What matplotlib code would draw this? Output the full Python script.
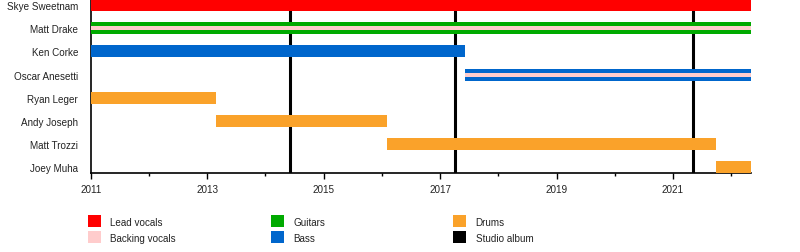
import matplotlib
matplotlib.use("Agg")
import matplotlib.pyplot as plt
from matplotlib.patches import Rectangle

plt.rcParams['font.family'] = ['Liberation Sans', 'DejaVu Sans']

# ---- data ----
members = ["Skye Sweetnam", "Matt Drake", "Ken Corke", "Oscar Anesetti",
           "Ryan Leger", "Andy Joseph", "Matt Trozzi", "Joey Muha"]
roles = ["Lead vocals", "Guitars", "Bass", "Bass",
         "Drums", "Drums", "Drums", "Drums"]
starts = [2011.0, 2011.0, 2011.0, 2017.43, 2011.0, 2013.15, 2016.09, 2021.74]
ends = [2022.34, 2022.34, 2017.43, 2022.34, 2013.15, 2016.09, 2021.74, 2022.34]
backing = [False, True, False, True, False, False, False, False]
albums = [2014.43, 2017.25, 2021.35]
year_start = 2011.0
year_end = 2022.34
major_years = [2011, 2013, 2015, 2017, 2019, 2021]
minor_years = [2012, 2014, 2016, 2018, 2020, 2022]

colors = {
    "Lead vocals": "#ff0000",
    "Backing vocals": "#ffcccc",
    "Guitars": "#00aa00",
    "Bass": "#0066cc",
    "Drums": "#faa22a",
    "Studio album": "#000000",
}
legend_order = [["Lead vocals", "Backing vocals"],
                ["Guitars", "Bass"],
                ["Drums", "Studio album"]]

# ---- figure ----
W, H = 800, 253
fig = plt.figure(figsize=(W / 100, H / 100), dpi=100)
left_px, right_px, top_px, bottom_px = 90.7, 751.0, 0.0, 174.3
ax = fig.add_axes([left_px / W, (H - bottom_px) / H,
                   (right_px - left_px) / W, (bottom_px - top_px) / H])

ys = list(range(len(members)))
for y, m, r, s, e, b in zip(ys, members, roles, starts, ends, backing):
    ax.barh(y, e - s, left=s, height=0.52, color=colors[r], zorder=3, linewidth=0)
    if b:
        ax.barh(y, e - s, left=s, height=0.17, color=colors["Backing vocals"],
                zorder=4, linewidth=0)

for a in albums:
    ax.axvline(a, color=colors["Studio album"], lw=2.2, zorder=2)

ax.set_xlim(year_start, year_end)
ax.set_ylim(7.254, -0.259)
ax.set_yticks(ys)
ax.set_yticklabels(members, fontsize=7.1, color="#222222")
ax.tick_params(axis='y', length=0, pad=9)
ax.set_xticks(major_years)
ax.set_xticklabels([str(y) for y in major_years], fontsize=7.1, color="#222222")
ax.set_xticks(minor_years, minor=True)
ax.tick_params(axis='x', which='major', length=4, width=1, pad=3.5, direction='out')
ax.tick_params(axis='x', which='minor', length=2, width=1, direction='out')

for sp in ["top", "right"]:
    ax.spines[sp].set_visible(False)
for sp in ["left", "bottom"]:
    ax.spines[sp].set_linewidth(1.2)

# ---- legend ----
col_x = [88, 271, 453]
row_y = [216.3, 232.3]
sq_w, sq_h = 13, 12
for cx, col in zip(col_x, legend_order):
    for ry, name in zip(row_y, col):
        fig.patches.append(Rectangle((cx / W, (H - ry - sq_h) / H), sq_w / W, sq_h / H,
                                     transform=fig.transFigure, color=colors[name],
                                     linewidth=0))
        fig.text((cx + 22.5) / W, (H - ry - sq_h / 2 - 0.5) / H, name,
                 fontsize=7.1, va='center', ha='left', color="#222222")

fig.savefig("out.png", dpi=100)
